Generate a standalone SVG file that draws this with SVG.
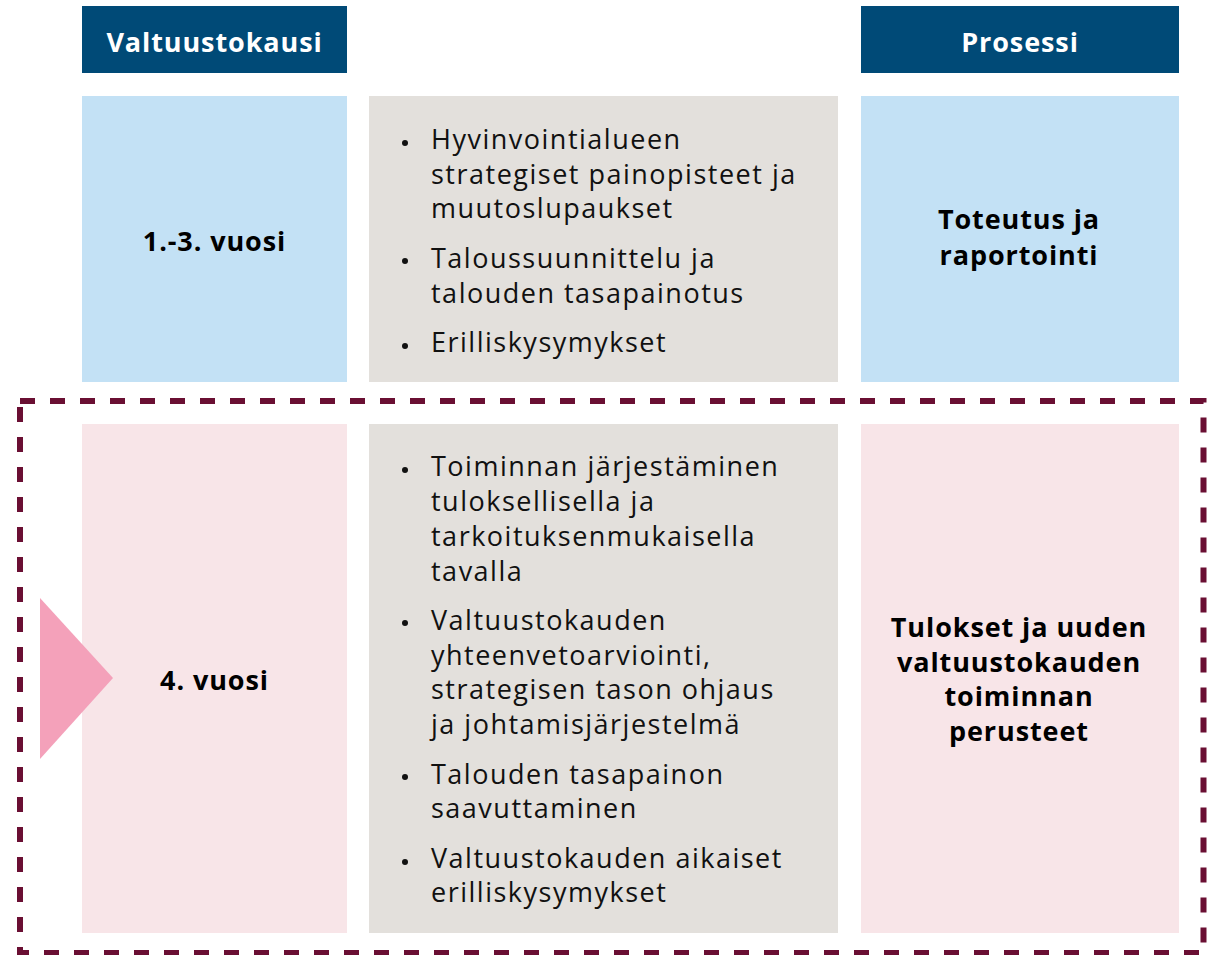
<svg xmlns="http://www.w3.org/2000/svg" width="1211" height="955" viewBox="0 0 1211 955">
<style>
.hdr{fill:#004a77}
.blue{fill:#c3e1f5}
.pink{fill:#f8e5e8}
.grey{fill:#e3e0dc}
.ht{font-family:"Open Sans","Noto Sans",sans-serif;font-weight:700;font-size:27px;letter-spacing:0.9px;fill:#ffffff;text-anchor:middle}
.bt{font-family:"Open Sans","Noto Sans",sans-serif;font-weight:700;font-size:27px;letter-spacing:0.9px;fill:#000000;text-anchor:middle}
.tx{font-family:"Open Sans","Noto Sans",sans-serif;font-size:27px;letter-spacing:1.5px;fill:#111111}
.dot{fill:#111111}
</style>
<rect width="1211" height="955" fill="#ffffff"/>
<g id="frame">
<rect x="20" y="401" width="1183.5" height="552" fill="none" stroke="#6a0f33" stroke-width="6" stroke-dasharray="15 15"/>
</g>
<g id="header-left"><rect class="hdr" x="82" y="6" width="265" height="67"/><text class="ht" x="214.5" y="51.5">Valtuustokausi</text></g>
<g id="header-right"><rect class="hdr" x="861" y="6" width="318" height="67"/><text class="ht" x="1020" y="51.5">Prosessi</text></g>
<g id="row1-left"><rect class="blue" x="82" y="96" width="265" height="286"/><text class="bt" x="214.5" y="250.5">1.-3. vuosi</text></g>
<g id="row1-mid"><rect class="grey" x="369" y="96" width="469" height="286"/>
<circle class="dot" cx="405" cy="143" r="3"/><circle class="dot" cx="405" cy="261" r="3"/><circle class="dot" cx="405" cy="346" r="3"/>
<text class="tx" x="431" y="149">Hyvinvointialueen</text>
<text class="tx" x="431" y="183.5">strategiset painopisteet ja</text>
<text class="tx" x="431" y="218">muutoslupaukset</text>
<text class="tx" x="431" y="267.5">Taloussuunnittelu ja</text>
<text class="tx" x="431" y="302.5">talouden tasapainotus</text>
<text class="tx" x="431" y="352">Erilliskysymykset</text>
</g>
<g id="row1-right"><rect class="blue" x="861" y="96" width="318" height="286"/><text class="bt" x="1019" y="229">Toteutus ja</text><text class="bt" x="1019" y="264.5">raportointi</text></g>
<g id="row2-left"><rect class="pink" x="82" y="424" width="265" height="509"/><text class="bt" x="214.5" y="690">4. vuosi</text></g>
<g id="row2-mid"><rect class="grey" x="369" y="424" width="469" height="509"/>
<circle class="dot" cx="405" cy="470" r="3"/><circle class="dot" cx="405" cy="623" r="3"/><circle class="dot" cx="405" cy="777" r="3"/><circle class="dot" cx="405" cy="862" r="3"/>
<text class="tx" x="431" y="476">Toiminnan järjestäminen</text>
<text class="tx" x="431" y="511">tuloksellisella ja</text>
<text class="tx" x="431" y="546">tarkoituksenmukaisella</text>
<text class="tx" x="431" y="581">tavalla</text>
<text class="tx" x="431" y="630">Valtuustokauden</text>
<text class="tx" x="431" y="664.5">yhteenvetoarviointi,</text>
<text class="tx" x="431" y="699">strategisen tason ohjaus</text>
<text class="tx" x="431" y="734">ja johtamisjärjestelmä</text>
<text class="tx" x="431" y="783.5">Talouden tasapainon</text>
<text class="tx" x="431" y="818">saavuttaminen</text>
<text class="tx" x="431" y="868">Valtuustokauden aikaiset</text>
<text class="tx" x="431" y="902">erilliskysymykset</text>
</g>
<g id="row2-right"><rect class="pink" x="861" y="424" width="318" height="509"/>
<text class="bt" x="1019" y="637">Tulokset ja uuden</text>
<text class="bt" x="1019" y="671.5">valtuustokauden</text>
<text class="bt" x="1019" y="706">toiminnan</text>
<text class="bt" x="1019" y="740.5">perusteet</text>
</g>
<g id="arrow"><polygon points="40,598 113,678 40,759" fill="#f4a1ba"/></g>
</svg>
